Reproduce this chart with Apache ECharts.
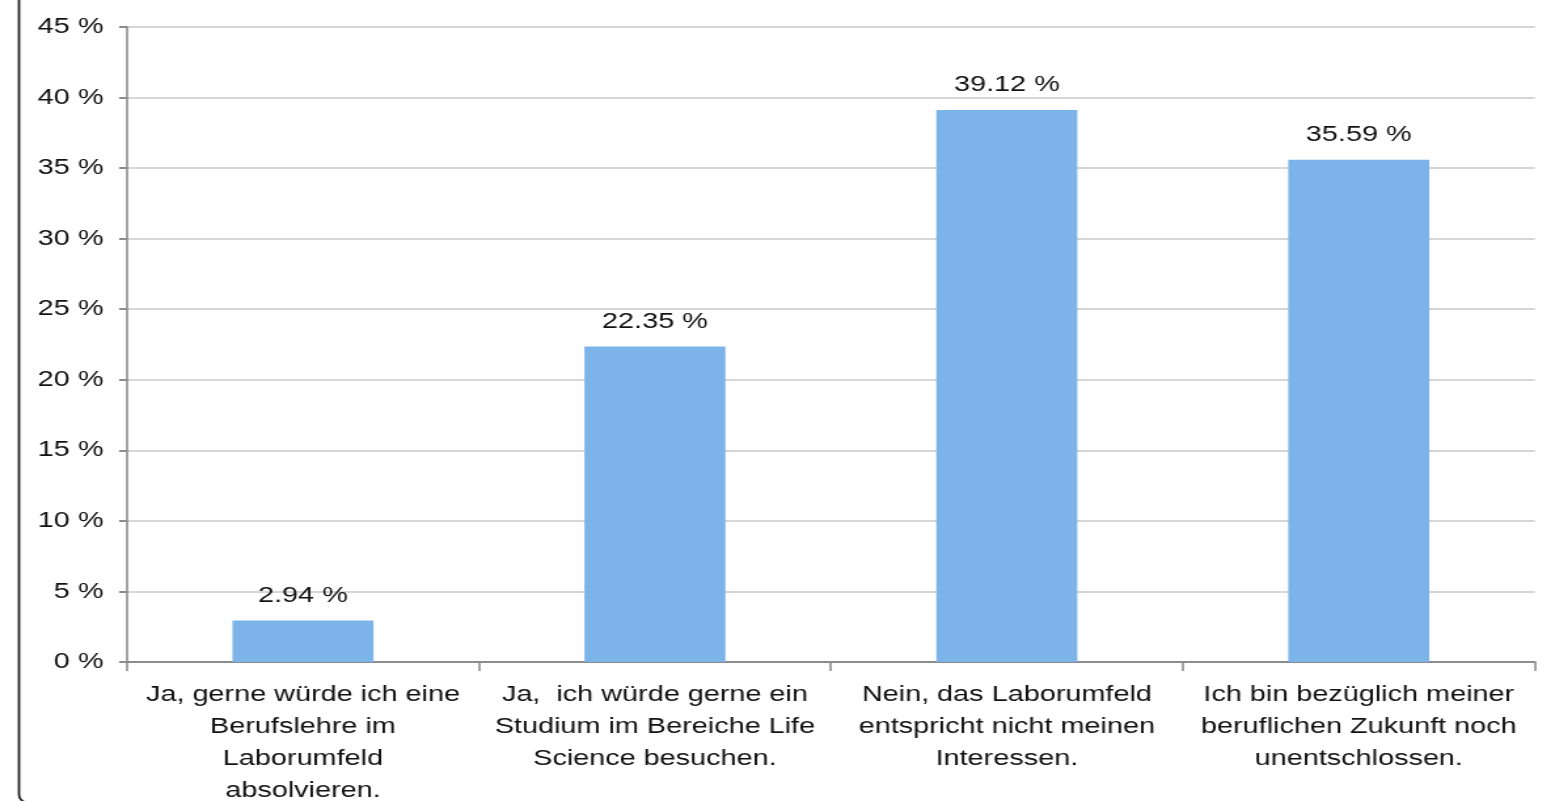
<!DOCTYPE html>
<html>
<head>
    <meta charset="UTF-8">
    <title></title>
    <script type="text/javascript" src="https://cdn.jsdelivr.net/npm/echarts@6/dist/echarts.min.js"></script>
    <style>
        html, body { margin: 0; padding: 0; background: #fff; overflow: hidden; }
        /* the original picture is stretched sideways, so the chart is too */
        #main { height: 801px; transform-origin: 0 0; }
    </style>
</head>
<body>
<div id="main"></div>
<script type="text/javascript">
    // categories (line breaks as in the picture)
    var categories = [
        'Ja, gerne würde ich eine\nBerufslehre im\nLaborumfeld\nabsolvieren.',
        'Ja,  ich würde gerne ein\nStudium im Bereiche Life\nScience besuchen.',
        'Nein, das Laborumfeld\nentspricht nicht meinen\nInteressen.',
        'Ich bin bezüglich meiner\nberuflichen Zukunft noch\nunentschlossen.'
    ];
    var values = [2.94, 22.35, 39.12, 35.59];
    var yMin = 0, yMax = 45, yStep = 5;

    var sx = 1.31;
    var dom = document.getElementById('main');
    dom.style.width = (1550 / sx) + 'px';
    dom.style.transform = 'scaleX(' + sx + ')';

    var myChart = echarts.init(dom);

    var font = 'Liberation Sans, Arial, sans-serif';
    var axisGray = '#8c8c8c';

    option = {
        backgroundColor: '#fff',
        animation: false,
        grid: {
            left: 127 / sx,
            right: 15 / sx,
            top: 27,
            bottom: 139,
            outerBoundsMode: 'none'
        },
        // frame of the original slide, only left side visible
        graphic: [{
            type: 'rect',
            shape: {x: 19 / sx, y: -30, width: 1500, height: 833, r: 8},
            style: {fill: 'none', stroke: '#222', lineWidth: 1.8},
            silent: true
        }],
        xAxis: {
            type: 'category',
            data: categories,
            axisLine: {lineStyle: {color: axisGray, width: 2}},
            axisTick: {show: true, alignWithLabel: false, length: 9, lineStyle: {color: axisGray, width: 1.6}},
            axisLabel: {
                interval: 0,
                margin: 17,
                color: '#111',
                fontFamily: font,
                fontSize: 22,
                lineHeight: 32,
                align: 'center'
            }
        },
        yAxis: {
            type: 'value',
            min: yMin,
            max: yMax,
            interval: yStep,
            axisLine: {show: true, lineStyle: {color: axisGray, width: 1.6}},
            axisTick: {show: true, length: 6, lineStyle: {color: axisGray, width: 2}},
            splitLine: {lineStyle: {color: '#c8c8c8', width: 1.5}},
            axisLabel: {
                formatter: '{value} %',
                margin: 18,
                padding: [3, 0, 0, 0],
                color: '#111',
                fontFamily: font,
                fontSize: 22
            }
        },
        series: [
            {
                type: 'bar',
                data: values,
                barWidth: 141 / sx,
                itemStyle: {color: '#7cb4ea'},
                label: {
                    show: true,
                    position: 'top',
                    distance: 14,
                    color: '#111',
                    fontFamily: font,
                    fontSize: 22,
                    formatter: function (p) { return p.value.toFixed(2) + ' %'; }
                }
            }
        ]
    };

    myChart.setOption(option);
</script>
</body>
</html>
